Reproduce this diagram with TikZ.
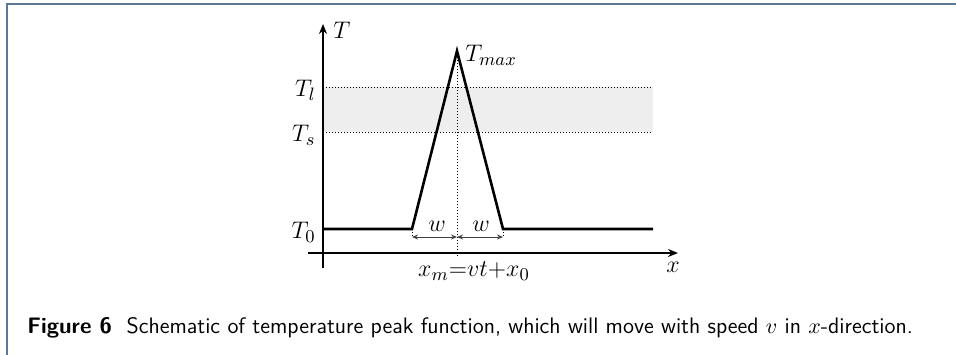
\documentclass[tikz,border=0pt]{standalone}
\usepackage{amsmath}
\usepackage{xcolor}
\usepackage{tikz}
\usetikzlibrary{arrows.meta}
\definecolor{boxframe}{HTML}{5B7897}
\definecolor{bandgray}{HTML}{EEEEEE}
\tikzset{
  axis/.style={-{Stealth[length=5pt,width=4pt]},line width=0.8pt},
  curve/.style={line width=1.3pt,line join=miter},
  guide/.style={densely dotted,line width=0.5pt},
  span/.style={{Stealth[length=3pt,width=2.5pt]}-{Stealth[length=3pt,width=2.5pt]},line width=0.5pt,draw=black!75},
  lbl/.style={inner sep=1pt,font=\fontsize{13}{15}\selectfont},
}
\begin{document}
\begin{tikzpicture}[x=0.5pt,y=-0.5pt]
  \useasboundingbox (0,0) rectangle (956,354);
  % figure frame
  \draw[boxframe,line width=1pt] (7,355) -- (7,4) -- (957,4);
  % band between T_s and T_l
  \fill[bandgray] (323,87) rectangle (653,132);
  \coordinate (ls) at (323,87);   \coordinate (le) at (653,87);
  \coordinate (ss) at (323,132);  \coordinate (se) at (653,132);
  \draw[guide] (ls) -- (le);
  \draw[guide] (ss) -- (se);
  % axes
  \coordinate (ybot) at (323,268); \coordinate (ytop) at (323,24);
  \coordinate (xlft) at (308,253); \coordinate (xrgt) at (678,253);
  \draw[axis] (ybot) -- (ytop);
  \draw[axis] (xlft) -- (xrgt);
  % peak
  \coordinate (a) at (323,229); \coordinate (b) at (412,229);
  \coordinate (p) at (457,51);  \coordinate (c) at (503,229);
  \coordinate (d) at (653,229);
  \coordinate (m) at (457,257);
  \coordinate (bw) at (412,237); \coordinate (mw) at (457,237); \coordinate (cw) at (503,237);
  \draw[guide] (p) -- (m);
  \draw[guide] (b) -- (bw);
  \draw[guide] (c) -- (cw);
  \draw[curve] (a) -- (b) -- (p) -- (c) -- (d);
  \draw[span] (bw) -- (mw);
  \draw[span] (mw) -- (cw);
  % labels
  \node[lbl,anchor=west] (tlab) at (331,30) {$T$};
  \node[lbl,anchor=west] (tmax) at (463,55) {$T_{max}$};
  \node[lbl,anchor=east] (tl) at (318,90) {$T_l$};
  \node[lbl,anchor=east] (ts) at (318,135) {$T_s$};
  \node[lbl,anchor=east] (t0) at (318,232) {$T_0$};
  \node[lbl] (w1) at (437,226) {$w$};
  \node[lbl] (w2) at (481,226) {$w$};
  \node[lbl] (xm) at (474,271) {$x_m{=}vt{+}x_0$};
  \node[lbl] (xlab) at (673,267) {$x$};
  % caption
  \node[anchor=base west,inner sep=0pt,font=\sffamily\fontsize{11.2}{13}\selectfont] (cap) at (27,333)
    {\textbf{Figure 6}\ \ Schematic of temperature peak function, which will move with speed $v$ in $x$-direction.};
\end{tikzpicture}
\end{document}
